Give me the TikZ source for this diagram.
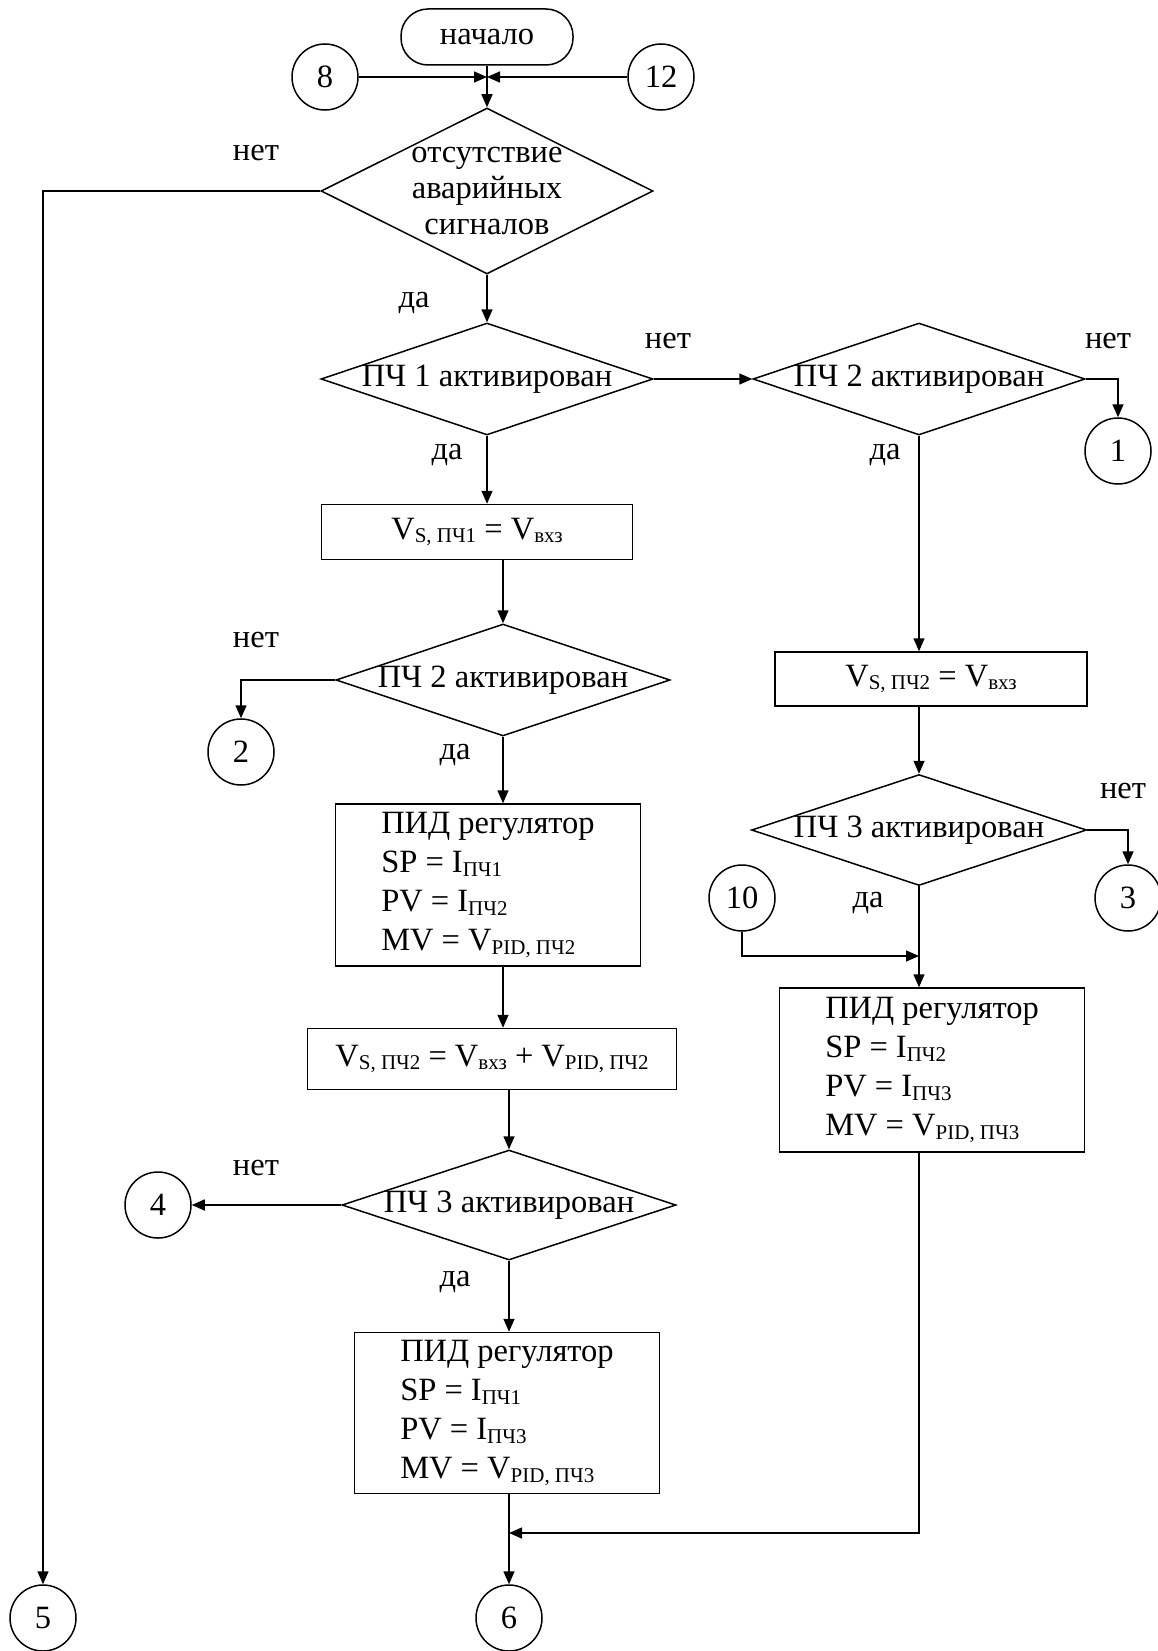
\documentclass[tikz,border=0pt]{standalone}
\usepackage{fontspec}
\setmainfont{Liberation Serif}
\usetikzlibrary{shapes.geometric,arrows.meta}

\newcommand{\low}[1]{\raisebox{-0.12em}{\fontsize{21}{21}\selectfont #1}}

\begin{document}
\begin{tikzpicture}[x=1pt,y=-1pt,line width=1.5pt,
    font=\fontsize{32.5}{39}\selectfont,
    >={Triangle[length=13pt,width=11pt]},
    term/.style={draw,rounded corners=27pt,minimum width=172pt,minimum height=56pt,inner sep=0pt},
    conn/.style={draw,circle,minimum size=66pt,inner sep=0pt},
    dec/.style={draw,diamond,aspect=3,minimum width=332pt,minimum height=112pt,inner sep=0pt},
    proc/.style={draw,rectangle,inner sep=0pt},
    pid/.style={draw,rectangle,align=left,minimum width=305pt,minimum height=162pt,inner sep=0pt}]

    \useasboundingbox (0,0) rectangle (1157,1651);

    \node[term] (start) at (487,37) {начало};
    \node[conn] (c8) at (325,77) {8};
    \node[conn] (c12) at (661,77) {12};
    \coordinate (j0) at (487,77);

    \node[dec,minimum height=166pt] (d0) at (487,191) {};
    \node[align=center,font=\fontsize{32.5}{36}\selectfont] (t0) at (d0.center) {отсутствие\\аварийных\\сигналов};

    \node[dec] (d1) at (487,379) {};
    \node (t1) at (d1.center) {ПЧ 1 активирован};
    \node[dec] (d2) at (919,379) {};
    \node (t2) at (d2.center) {ПЧ 2 активирован};
    \node[conn] (c1) at (1118,451) {1};

    \node[proc,minimum width=311pt,minimum height=55pt] (r1) at (477,532) {V\low{S, ПЧ1} = V\low{вхз}};
    \node[dec,minimum width=334pt,minimum height=112pt] (d3) at (503,680) {};
    \node (t3) at (d3.center) {ПЧ 2 активирован};
    \node[conn] (c2) at (241,752) {2};

    \node[pid] (p1) at (488,885) {ПИД регулятор\\SP = I\low{ПЧ1}\\PV = I\low{ПЧ2}\\MV = V\low{PID, ПЧ2}};
    \node[proc,minimum width=369pt,minimum height=61pt] (r2) at (492,1059) {V\low{S, ПЧ2} = V\low{вхз} + V\low{PID, ПЧ2}};
    \node[dec,minimum width=334pt,minimum height=110pt] (d4) at (509,1205) {};
    \node (t4) at (d4.center) {ПЧ 3 активирован};
    \node[conn] (c4) at (158,1205) {4};
    \node[pid,minimum height=161pt] (p2) at (507,1413) {ПИД регулятор\\SP = I\low{ПЧ1}\\PV = I\low{ПЧ3}\\MV = V\low{PID, ПЧ3}};

    \node[proc,minimum width=312pt,minimum height=54pt] (r3) at (931,679) {V\low{S, ПЧ2} = V\low{вхз}};
    \node[dec,minimum width=335pt,minimum height=111pt] (d5) at (919,830) {};
    \node (t5) at (d5.center) {ПЧ 3 активирован};
    \node[conn] (c3) at (1128,898) {3};
    \node[conn] (c10) at (742,898) {10};
    \coordinate (j1) at (919,956);
    \node[pid,minimum height=164pt] (p3) at (932,1070) {ПИД регулятор\\SP = I\low{ПЧ2}\\PV = I\low{ПЧ3}\\MV = V\low{PID, ПЧ3}};

    \node[conn] (c5) at (43,1618) {5};
    \node[conn] (c6) at (509,1618) {6};
    \coordinate (j2) at (509,1533);

    \draw[->] (c8) -- (j0);
    \draw[->] (c12) -- (j0);
    \draw[->] (start.south) -- (d0.north);
    \draw[->] (d0.west) -- (c5 |- d0.west) -- (c5.north);
    \draw[->] (d0.south) -- (d1.north);
    \draw[->] (d1.east) -- (d2.west);
    \draw[->] (d2.east) -- (c1 |- d2.east) -- (c1.north);
    \draw[->] (d2.south) -- (d2.south |- r3.north);
    \draw[->] (d5.north |- r3.south) -- (d5.north);
    \draw[->] (d5.east) -- (c3 |- d5.east) -- (c3.north);
    \draw[->] (d5.south) -- (d5.south |- p3.north);
    \draw[->] (c10.south) -- (c10.south |- j1) -- (j1);
    \draw[->] (p3.south -| j1) -- (j1 |- j2) -- (j2);

    \draw[->] (d1.south) -- (d1.south |- r1.north);
    \draw[->] (d3.north |- r1.south) -- (d3.north);
    \draw[->] (d3.west) -- (c2 |- d3.west) -- (c2.north);
    \draw[->] (d3.south) -- (d3.south |- p1.north);
    \draw[->] (d3.south |- p1.south) -- (d3.south |- r2.north);
    \draw[->] (d4.north |- r2.south) -- (d4.north);
    \draw[->] (d4.west) -- (c4.east);
    \draw[->] (d4.south) -- (d4.south |- p2.north);
    \draw[->] (d4.south |- p2.south) -- (c6.north);

    \node (n0) at (256,153) {нет};
    \node (y0) at (414,303) {да};
    \node (n1) at (668,341) {нет};
    \node (n2) at (1108,341) {нет};
    \node (y1) at (447,455) {да};
    \node (y2) at (885,455) {да};
    \node (n3) at (256,640) {нет};
    \node (y3) at (455,755) {да};
    \node (n5) at (1123,791) {нет};
    \node (y5) at (868,903) {да};
    \node (n4) at (256,1168) {нет};
    \node (y4) at (455,1282) {да};

\end{tikzpicture}
\end{document}
